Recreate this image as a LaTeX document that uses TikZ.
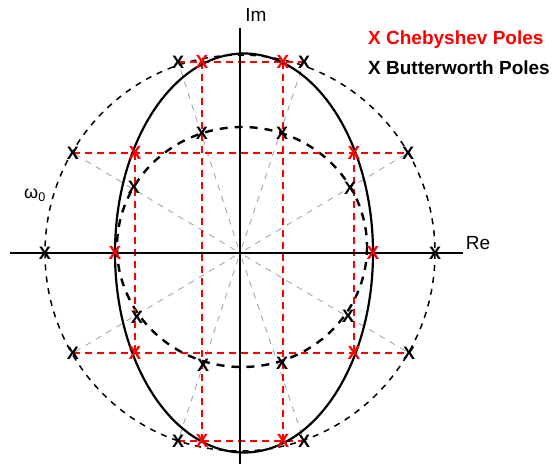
\documentclass[tikz,border=0pt]{standalone}
\usepackage{fontspec}
\setmainfont{Liberation Sans}
\usetikzlibrary{backgrounds}

\begin{document}
\begin{tikzpicture}[x=1pt, y=-1pt,
  bpole/.style={inner sep=0pt, font=\fontsize{18}{18}\selectfont\bfseries},
  cpole/.style={inner sep=0pt, text=red, font=\fontsize{19}{19}\selectfont\bfseries},
  lbl/.style={inner sep=0pt, font=\fontsize{19}{19}\selectfont},
  leg/.style={inner sep=0pt, anchor=west, font=\fontsize{19}{19}\selectfont\bfseries},
  axis/.style={line width=2pt},
  rline/.style={red, dash pattern=on 7pt off 5pt, line width=1.6pt},
  gline/.style={black!35, dash pattern=on 6pt off 6pt, line width=0.9pt, shorten <=6pt}]
\useasboundingbox (0,0) rectangle (559,464);
\coordinate (o) at (240,253);
% Butterworth poles, outer circle
\node[bpole] (o0) at (435,253) {X};
\node[bpole] (o1) at (408,153) {X};
\node[bpole] (o2) at (304,62) {X};
\node[bpole] (o3) at (178,62) {X};
\node[bpole] (o4) at (73,153) {X};
\node[bpole] (o5) at (45,253) {X};
\node[bpole] (o6) at (73,353) {X};
\node[bpole] (o7) at (178,441) {X};
\node[bpole] (o8) at (304,441) {X};
\node[bpole] (o9) at (409,353) {X};
% Butterworth poles, inner circle
\node[bpole] (i1) at (350,188) {X};
\node[bpole] (i2) at (282,133) {X};
\node[bpole] (i3) at (202,133) {X};
\node[bpole] (i4) at (134,187) {X};
\node[bpole] (i6) at (137,317) {X};
\node[bpole] (i7) at (203,365) {X};
\node[bpole] (i8) at (282,363) {X};
\node[bpole] (i9) at (348,316) {X};
% Chebyshev poles
\node[cpole] (c0) at (373,253) {X};
\node[cpole] (c1) at (354,153) {X};
\node[cpole] (c2) at (283,62) {X};
\node[cpole] (c3) at (202,62) {X};
\node[cpole] (c4) at (135,153) {X};
\node[cpole] (c5) at (115,253) {X};
\node[cpole] (c6) at (135,353) {X};
\node[cpole] (c7) at (202,441) {X};
\node[cpole] (c8) at (283,441) {X};
\node[cpole] (c9) at (354,353) {X};
% labels
\node[lbl] (im) at (256,15) {Im};
\node[lbl] (re) at (478,243) {Re};
\node[lbl, font=\fontsize{18}{18}\selectfont] (w0) at (35,195) {ω\textsubscript{0}};
\node[leg, text=red] (legc) at (368,40) {X Chebyshev Poles};
\node[leg] (legb) at (368,68) {X Butterworth Poles};
\begin{pgfonlayer}{background}
\draw[gline] (o) -- (o1.center);
\draw[gline] (o) -- (o2.center);
\draw[gline] (o) -- (o3.center);
\draw[gline] (o) -- (o4.center);
\draw[gline] (o) -- (o6.center);
\draw[gline] (o) -- (o7.center);
\draw[gline] (o) -- (o8.center);
\draw[gline] (o) -- (o9.center);
\draw[line width=1.5pt, dash pattern=on 6pt off 6pt] (o) ellipse [x radius=195, y radius=198];
\draw[line width=2.4pt, dash pattern=on 8pt off 7pt] (242,247) ellipse [x radius=125, y radius=120];
\draw[rline] (o3.center) -- (o2.center);
\draw[rline] (o4.center) -- (o1.center);
\draw[rline] (o6.center) -- (o9.center);
\draw[rline] (o7.center) -- (o8.center);
\draw[rline] (c3.center) -- (c7.center);
\draw[rline] (c2.center) -- (c8.center);
\draw[rline] (c4.center) -- (c6.center);
\draw[rline] (c1.center) -- (c9.center);
\draw[axis] (10,253) -- (463,253);
\draw[axis] (240,28) -- (240,464);
\draw[line width=2.2pt] (244,253) ellipse [x radius=129, y radius=199.5];
\end{pgfonlayer}
\end{tikzpicture}
\end{document}
